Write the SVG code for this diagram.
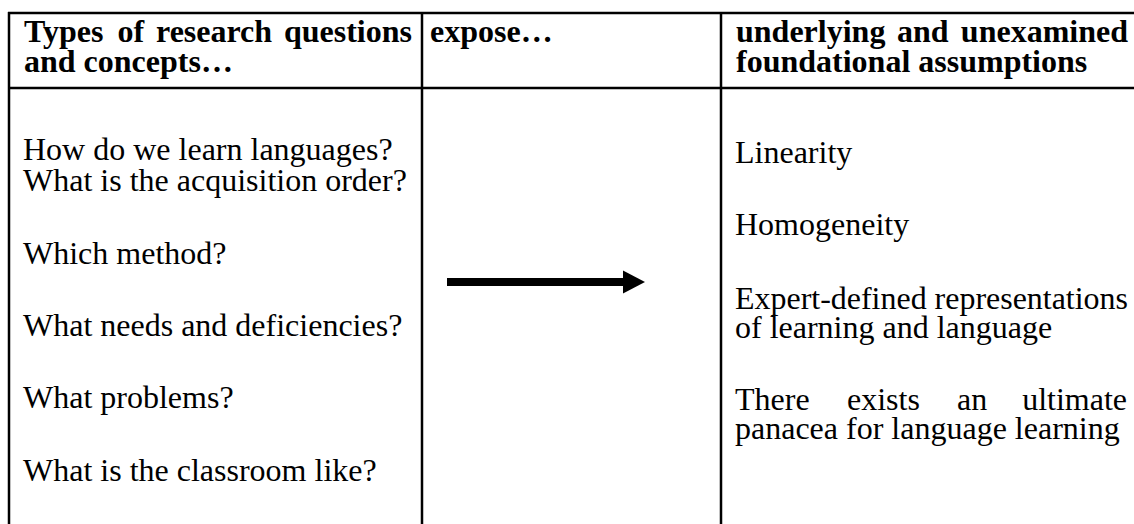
<svg xmlns="http://www.w3.org/2000/svg" width="1134" height="524" viewBox="0 0 1134 524">
<style>
.grid{stroke:#000;stroke-width:2.5;fill:none}
.h{font-family:"Liberation Serif","Times New Roman",serif;font-weight:bold;font-size:32px;fill:#000}
.b{font-family:"Liberation Serif","Times New Roman",serif;font-size:32px;fill:#000}
</style>
<rect width="1134" height="524" fill="#fff"/>
<g id="grid">
<line class="grid" x1="8" y1="13" x2="1134" y2="13"/>
<line class="grid" x1="8" y1="88" x2="1134" y2="88"/>
<line class="grid" x1="9" y1="12" x2="9" y2="524"/>
<line class="grid" x1="422" y1="12" x2="422" y2="524"/>
<line class="grid" x1="721" y1="12" x2="721" y2="524"/>
</g>
<g id="header-questions">
<text class="h" y="42"><tspan x="24">Types</tspan><tspan x="117.5">of</tspan><tspan x="156">research</tspan><tspan x="412" text-anchor="end">questions</tspan></text>
<text class="h" x="24" y="72">and concepts…</text>
</g>
<g id="header-expose">
<text class="h" x="430" y="42">expose…</text>
</g>
<g id="header-assumptions">
<text class="h" y="42"><tspan x="736">underlying</tspan><tspan x="897">and</tspan><tspan x="1128" text-anchor="end">unexamined</tspan></text>
<text class="h" x="736" y="72">foundational assumptions</text>
</g>
<g id="questions">
<text class="b" x="23" y="160">How do we learn languages?</text>
<text class="b" x="23" y="191">What is the acquisition order?</text>
<text class="b" x="23" y="264">Which method?</text>
<text class="b" x="23" y="336">What needs and deficiencies?</text>
<text class="b" x="23" y="408">What problems?</text>
<text class="b" x="23" y="481">What is the classroom like?</text>
</g>
<g id="assumptions">
<text class="b" x="735" y="163">Linearity</text>
<text class="b" x="735" y="235">Homogeneity</text>
<text class="b" x="735" y="309" textLength="393" lengthAdjust="spacingAndGlyphs">Expert-defined representations</text>
<text class="b" x="735" y="338">of learning and language</text>
<text class="b" y="410"><tspan x="735">There</tspan><tspan x="847">exists</tspan><tspan x="957">an</tspan><tspan x="1127" text-anchor="end">ultimate</tspan></text>
<text class="b" x="735" y="439">panacea for language learning</text>
</g>
<g id="connectors">
<rect x="447" y="278" width="178" height="8" fill="#000"/>
<polygon points="623,270.5 645,282 623,293.5" fill="#000"/>
</g>
</svg>
